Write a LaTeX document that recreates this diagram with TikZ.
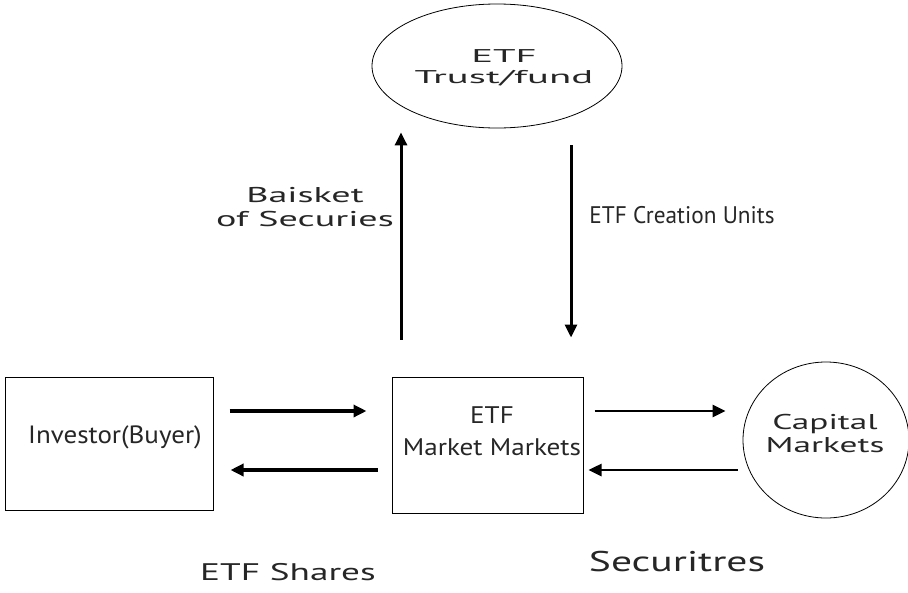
\documentclass[tikz,border=0pt]{standalone}
\usepackage{fontspec}
\setmainfont{PT Sans}
\usetikzlibrary{shapes.geometric,arrows.meta}
\tikzset{
  box/.style={draw=black, line width=1pt, minimum width=#1},
  oval/.style={draw=black, line width=0.8pt, ellipse, inner sep=0pt},
  flow/.style={line width=3.5pt, -{Triangle[length=13pt,width=12pt]}},
  lbl/.style n args={3}{text=black!85, align=center, inner sep=0pt,
    font=\fontsize{#1}{#3}\selectfont\addfontfeatures{FakeStretch=#2}}
}
\begin{document}
\begin{tikzpicture}[x=1pt,y=-1pt]
    \useasboundingbox (0,0) rectangle (908,592);

    \node[oval, minimum width=250, minimum height=124] (trust) at (497,66) {};
    \node[box=208, minimum height=133] (inv) at (109,443.5) {};
    \node[box=191, minimum height=136] (etf) at (487.5,445) {};
    \node[oval, minimum width=166, minimum height=156] (cap) at (826,440) {};

    \node[lbl={18.5}{2.2}{21}] (trusttxt) at (504,68) {ETF\\Trust/fund};
    \node[lbl={25}{1.08}{30}] (invtxt) at (115,437) {Investor(Buyer)};
    \node[lbl={24}{1.13}{32}] (etftxt) at (492,431) {ETF\\Market Markets};
    \node[lbl={21.4}{1.65}{23}] (captxt) at (825,433.5) {Capital\\Markets};

    \node[lbl={21.4}{1.78}{24}] (basket) at (305,207) {Baisket\\of Securies};
    \node[lbl={24}{0.97}{28}] (units) at (682,215) {ETF Creation Units};
    \node[lbl={24}{1.55}{28}] (shares) at (288,572) {ETF Shares};
    \node[lbl={28.5}{1.46}{32}] (secur) at (677,562) {Securitres};

    \coordinate (upx) at (401,0);
    \coordinate (dnx) at (571,0);
    \coordinate (rowA) at (0,411);
    \coordinate (rowB) at (0,470);

    \draw[flow, line width=3pt, shorten <=37, shorten >=4] (etf.north -| upx) -- (trust.south -| upx);
    \draw[flow, line width=3pt, shorten <=17, shorten >=39] (trust.south -| dnx) -- (etf.north -| dnx);

    \draw[flow, shorten <=16, shorten >=25] (inv.east |- rowA) -- (etf.west |- rowA);
    \draw[flow, shorten <=14, shorten >=17] (etf.west |- rowB) -- (inv.east |- rowB);
    \draw[flow, line width=2.5pt, shorten <=11, shorten >=17] (etf.east |- rowA) -- (cap.west |- rowA);
    \draw[flow, line width=2.5pt, shorten <=5, shorten >=5] (cap.west |- rowB) -- (etf.east |- rowB);

\end{tikzpicture}
\end{document}
